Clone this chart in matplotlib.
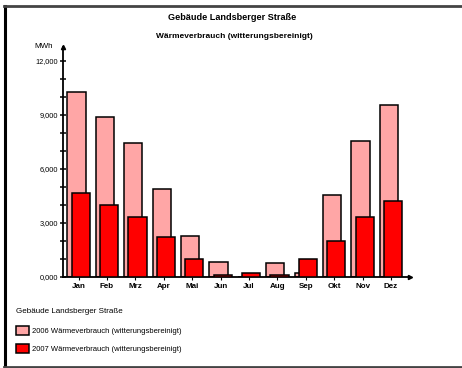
import matplotlib
matplotlib.use('Agg')
import matplotlib.pyplot as plt
from matplotlib.lines import Line2D
import numpy as np

plt.rcParams['font.family'] = ['Liberation Sans', 'DejaVu Sans']

# Monthly heat consumption, weather-adjusted (MWh)
months = ["Jan", "Feb", "Mrz", "Apr", "Mai", "Jun",
          "Jul", "Aug", "Sep", "Okt", "Nov", "Dez"]
verbrauch_2006 = [10300, 8870, 7430, 4890, 2300, 850,
                  0, 760, 240, 4540, 7560, 9560]
verbrauch_2007 = [4650, 4000, 3350, 2200, 980, 100,
                  240, 100, 980, 1980, 3330, 4200]
ytick_values = [0, 3000, 6000, 9000, 12000]
ytick_labels = ["0,000", "3,000", "6,000", "9,000", "12,000"]

color_2006 = '#ffa6a6'
color_2007 = '#ff0000'

fig = plt.figure(figsize=(4.62, 3.68), dpi=100)
fig.patch.set_facecolor('white')

ax = fig.add_axes([63 / 462, 1 - 277 / 368, 347 / 462, 230 / 368])
x = np.arange(len(months))
width = 0.64
shift = 0.075
ax.bar(x - shift, verbrauch_2006, width, color=color_2006, edgecolor='black',
       linewidth=1.1, zorder=2, label="2006 Wärmeverbrauch (witterungsbereinigt)")
ax.bar(x + shift, verbrauch_2007, width, color=color_2007, edgecolor='black',
       linewidth=1.1, zorder=3, label="2007 Wärmeverbrauch (witterungsbereinigt)")

ax.set_xlim(-0.55, 11.67)
ax.set_ylim(0, 12780)

for side in ['top', 'right']:
    ax.spines[side].set_visible(False)
for side in ['left', 'bottom']:
    ax.spines[side].set_linewidth(1.3)

ax.set_yticks(ytick_values)
ax.set_yticklabels(ytick_labels, fontsize=5.3)
ax.set_yticks(np.arange(0, 12001, 1000), minor=True)
ax.tick_params(axis='y', which='both', direction='inout', length=5, width=1.1, pad=1)
ax.set_xticks(x)
ax.set_xticklabels(months, fontsize=5.8, fontweight='bold')
ax.tick_params(axis='x', direction='out', length=2, width=0.8, pad=2.5)

# arrow heads at the ends of both axes
ax.plot(1, 0, marker='>', color='black', markersize=3,
        transform=ax.transAxes, clip_on=False)
ax.plot(0, 1, marker='^', color='black', markersize=3,
        transform=ax.transAxes, clip_on=False)
ax.text(-0.03, 1.0, "MWh", transform=ax.transAxes, fontsize=5.8,
        ha='right', va='center')

fig.text(232 / 462, 1 - 17 / 368, "Gebäude Landsberger Straße",
         fontsize=6.6, fontweight='bold', ha='center', va='center')
fig.text(234 / 462, 1 - 36 / 368, "Wärmeverbrauch (witterungsbereinigt)",
         fontsize=6.0, fontweight='bold', ha='center', va='center')

leg = fig.legend(loc='upper left', bbox_to_anchor=(14 / 462, 1 - 306 / 368),
                 frameon=False, fontsize=5.5, title="Gebäude Landsberger Straße",
                 title_fontsize=5.8, alignment='left', handlelength=1.6,
                 handleheight=1.3, handletextpad=0.4, labelspacing=1.2,
                 borderaxespad=0, borderpad=0.3)
leg._legend_box.sep = 8

# page frame
fig.add_artist(Line2D([5 / 462, 5 / 462], [0, 1 - 6 / 368], color='black', linewidth=2.2))
fig.add_artist(Line2D([4 / 462, 1], [1 - 6 / 368, 1 - 6 / 368], color='#444444', linewidth=2))
fig.add_artist(Line2D([4 / 462, 1], [1 / 368, 1 / 368], color='#444444', linewidth=2))

fig.savefig('out.png', dpi=100, facecolor='white')
